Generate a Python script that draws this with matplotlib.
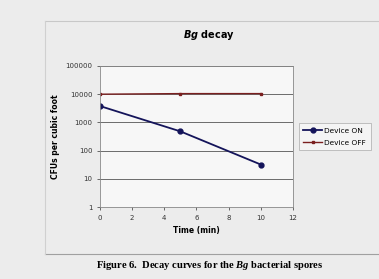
import matplotlib.pyplot as plt
from matplotlib.lines import Line2D

plt.rcParams['mathtext.fontset'] = 'custom'
plt.rcParams['mathtext.bfit'] = 'DejaVu Sans:italic:bold'
plt.rcParams['mathtext.it'] = 'Liberation Serif:italic:bold'

# data
time_min = [0, 5, 10]
device_on = [3800, 480, 32]
device_off = [10000, 10500, 10500]
x_ticks = [0, 2, 4, 6, 8, 10, 12]
y_ticks = [1, 10, 100, 1000, 10000, 100000]
y_labels = ['1', '10', '100', '1000', '10000', '100000']

fig = plt.figure(figsize=(3.79, 2.79), dpi=100, facecolor='#ececec')
W, H = 379, 279

# chart frame lines (Excel chart area border)
fig.add_artist(Line2D([45 / W, 378 / W], [1 - 21 / H, 1 - 21 / H], color='#c8c8c8', lw=0.8))
fig.add_artist(Line2D([45 / W, 378 / W], [1 - 254 / H, 1 - 254 / H], color='#a0a0a0', lw=0.8))
fig.add_artist(Line2D([45 / W, 45 / W], [1 - 21 / H, 1 - 254 / H], color='#d0d0d0', lw=0.8))

ax = fig.add_axes([100 / W, 1 - 207 / H, 193 / W, 141 / H])
ax.set_facecolor('#f7f7f7')
ax.set_yscale('log')
ax.set_ylim(1, 100000)
ax.set_xlim(0, 12)
ax.set_xticks(x_ticks)
ax.set_yticks(y_ticks)
ax.set_yticklabels(y_labels)
ax.minorticks_off()
ax.yaxis.grid(True, color='#555555', lw=0.6)
ax.tick_params(labelsize=5, length=2, width=0.5, colors='#333333')
for s in ax.spines.values():
    s.set_color('#888888')
    s.set_linewidth(0.6)

ax.plot(time_min, device_on, color='#14145a', marker='o', ms=3.5, lw=1.3, label='Device ON')
ax.plot(time_min, device_off, color='#7a1f1f', marker='s', ms=2, lw=1.0, label='Device OFF')

ax.set_xlabel('Time (min)', fontsize=5.5, fontweight='bold', labelpad=4)
ax.set_ylabel('CFUs per cubic foot', fontsize=5.5, fontweight='bold', labelpad=4)

fig.text(209 / W, 1 - 35 / H, r'$\mathbfit{Bg}$ decay', ha='center', va='center',
         fontsize=7, fontweight='bold')

leg = ax.legend(loc='center left', bbox_to_anchor=(1.01, 0.5), fontsize=5.3,
                frameon=True, fancybox=False, edgecolor='#999999',
                handlelength=2.6, borderpad=0.6, labelspacing=0.8, handletextpad=0.3)
leg.get_frame().set_linewidth(0.5)
leg.get_frame().set_facecolor('#f7f7f7')

fig.text(210 / W, 1 - 265 / H, r'Figure 6.  Decay curves for the $\it{Bg}$ bacterial spores',
         ha='center', va='center', fontsize=7.6, fontweight='bold', family='Liberation Serif')

plt.savefig('out.png', dpi=100, facecolor=fig.get_facecolor())
